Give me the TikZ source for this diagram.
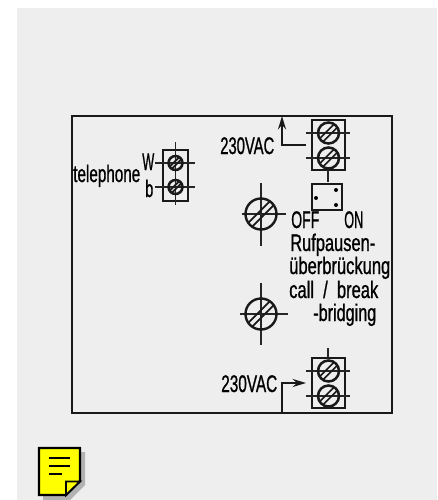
\documentclass[tikz,border=0pt]{standalone}
\usepackage{fontspec}
\usepackage{graphicx}
\usetikzlibrary{arrows.meta}
\setmainfont[FakeStretch=0.65,FakeBold=0.8]{Liberation Sans}
\tikzset{
  x=0.75pt,y=-0.75pt,
  ink/.style={draw=black!90,line width=1.5pt},
  thin ink/.style={draw=black!85,line width=0.8pt},
  lbl/.style={inner sep=0pt,anchor=base west,text=black,font=\fontsize{18pt}{18pt}\selectfont},
  hatch/.style={draw=black!90,line width=1.3pt},
  wire/.style={ink,-{Stealth[length=10pt,width=6pt]}},
}
\definecolor{panel}{HTML}{EEEEEE}
\definecolor{note}{HTML}{FFFF00}
\newcommand{\fw}[2]{\resizebox{\dimexpr#1pt*3/4\relax}{\height}{#2}}
\newcommand{\termscrew}[3]{% x y r
  \draw[ink,line width=1.9pt] (#1,#2) circle[radius=#3];
  \draw[hatch] (#1-#3*0.48,#2+#3*0.79) -- (#1+#3*0.79,#2-#3*0.48);
  \draw[hatch] (#1-#3*0.79,#2+#3*0.48) -- (#1+#3*0.48,#2-#3*0.79);
}
\newcommand{\bigscrew}[7]{% x y r x0 x1 y0 y1
  \draw[thin ink] (#4,#2) -- (#5,#2);
  \draw[thin ink] (#1,#6) -- (#1,#7);
  \draw[ink,line width=1.8pt] (#1,#2) circle[radius=#3];
  \draw[hatch] (#1-#3*0.566,#2+#3*0.82) -- (#1+#3*0.82,#2-#3*0.566);
  \draw[hatch] (#1-#3*0.82,#2+#3*0.566) -- (#1+#3*0.566,#2-#3*0.82);
}
\begin{document}
\begin{tikzpicture}
\useasboundingbox (0,0) rectangle (437,500);
\fill[white] (0,0) rectangle (437,500);
\fill[panel] (17,8) rectangle (437,500);
% frame
\draw[ink] (72,115.5) rectangle (392,413);
% telephone terminal
\draw[ink] (163,149.5) rectangle (188,201);
\draw[thin ink] (155,163) -- (195,163);
\draw[thin ink] (155,187) -- (195,187);
\draw[thin ink] (175.5,142) -- (175.5,205);
\termscrew{175.5}{163}{7}
\termscrew{175.5}{187}{7}
\node[lbl] (tel) at (73,182) {\fw{67}{telephone}};
\node[lbl] (w) at (142,170) {\fw{12}{W}};
\node[lbl] (b) at (145,197) {\fw{8}{b}};
% upper terminal
\draw[ink] (312,120) rectangle (345,170);
\draw[thin ink] (306,133) -- (350,133);
\draw[thin ink] (306,158) -- (350,158);
\draw[thin ink] (328,170) -- (328,182);
\termscrew{328.5}{133}{10.5}
\termscrew{328.5}{158}{10.5}
\coordinate (upf) at (306,145);
\coordinate (upt) at (282,116);
\draw[wire] (upf) -| (upt);
\node[lbl] (ua) at (220,154) {\fw{54}{230VAC}};
% switch
\draw[ink] (312,184) rectangle (342,210);
\fill (316,198) circle[radius=2];
\fill (336,190) circle[radius=2];
\fill (336,205) circle[radius=2];
% big screws
\bigscrew{261}{214}{15.5}{242}{286}{183}{246}
\bigscrew{261}{314}{15.5}{240}{288}{283}{345}
\node[lbl] (off) at (291,228) {\fw{28}{OFF}};
\node[lbl] (on) at (344,228) {\fw{19}{ON}};
\node[lbl] (r1) at (290,251) {\fw{85}{Rufpausen-}};
\node[lbl] (r2) at (289,274) {\fw{101}{überbrückung}};
\node[lbl] (r3) at (289,298) {\fw{89}{call\ \ /\ \ break}};
\node[lbl] (r4) at (313,321) {\fw{63}{-bridging}};
% lower terminal
\draw[ink] (312,358) rectangle (345,408);
\draw[thin ink] (306,371) -- (350,371);
\draw[thin ink] (306,396) -- (350,396);
\draw[thin ink] (328,348) -- (328,358);
\termscrew{328.5}{371}{10.5}
\termscrew{328.5}{396}{10.5}
\coordinate (lof) at (282,413);
\coordinate (lot) at (306,383);
\draw[wire] (lof) |- (lot);
\node[lbl] (la) at (221,392) {\fw{56}{230VAC}};
% note icon
\fill[gray!60] (43,452) -- (85,452) -- (85,485) -- (70,500) -- (43,500) -- cycle;
\draw[black,line width=1.7pt,fill=note,line join=miter] (39,448) -- (80,448) -- (80,481) -- (66,495) -- (39,495) -- cycle;
\draw[black,line width=1.4pt,fill=note] (66,495) -- (66,481.5) -- (80,481.5) -- cycle;
\draw[black,line width=2pt] (49,458) -- (70,458);
\draw[black,line width=2pt] (49,466) -- (70,466);
\draw[black,line width=2pt] (49,474) -- (62,474);
\end{tikzpicture}
\end{document}
